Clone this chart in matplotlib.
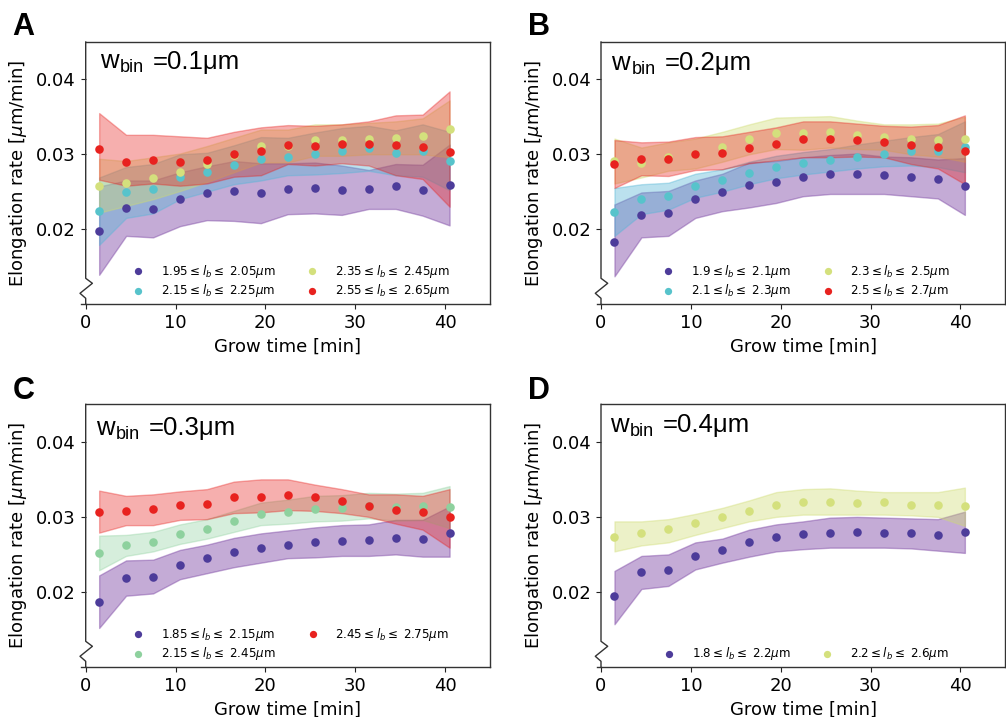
import matplotlib
matplotlib.use("Agg")
import matplotlib.pyplot as plt
import matplotlib.transforms as mtransforms
from matplotlib.lines import Line2D

# ---------------- data ----------------
grow_time = [1.5, 4.5, 7.5, 10.5, 13.5, 16.5, 19.5, 22.5, 25.5, 28.5, 31.5, 34.5, 37.5, 40.5]

# Panel A (w_bin = 0.1 um)
a_labels = [r"1.95$\leq l_b \leq$ 2.05$\mu$m", r"2.15$\leq l_b \leq$ 2.25$\mu$m",
            r"2.35$\leq l_b \leq$ 2.45$\mu$m", r"2.55$\leq l_b \leq$ 2.65$\mu$m"]
a_purple = [0.0198, 0.0228, 0.0227, 0.0240, 0.0248, 0.0251, 0.0248, 0.0254, 0.0255, 0.0252, 0.0253, 0.0257, 0.0252, 0.0259]
a_purple_lo = [0.0139, 0.0191, 0.0189, 0.0204, 0.0212, 0.0211, 0.0208, 0.0220, 0.0221, 0.0219, 0.0227, 0.0227, 0.0218, 0.0205]
a_purple_hi = [0.0257, 0.0265, 0.0265, 0.0276, 0.0284, 0.0291, 0.0288, 0.0288, 0.0289, 0.0285, 0.0279, 0.0287, 0.0286, 0.0313]
a_cyan = [0.0224, 0.0249, 0.0254, 0.0270, 0.0276, 0.0286, 0.0294, 0.0297, 0.0301, 0.0305, 0.0308, 0.0302, 0.0305, 0.0291]
a_cyan_lo = [0.0179, 0.0215, 0.0221, 0.0240, 0.0250, 0.0260, 0.0265, 0.0272, 0.0273, 0.0275, 0.0278, 0.0272, 0.0270, 0.0252]
a_cyan_hi = [0.0269, 0.0283, 0.0287, 0.0300, 0.0302, 0.0312, 0.0323, 0.0322, 0.0329, 0.0335, 0.0338, 0.0332, 0.0340, 0.0330]
a_yellow = [0.0258, 0.0261, 0.0268, 0.0276, 0.0287, 0.0299, 0.0311, 0.0311, 0.0319, 0.0319, 0.0321, 0.0322, 0.0324, 0.0334]
a_yellow_lo = [0.0222, 0.0231, 0.0240, 0.0251, 0.0263, 0.0276, 0.0289, 0.0289, 0.0298, 0.0298, 0.0300, 0.0300, 0.0300, 0.0296]
a_yellow_hi = [0.0294, 0.0291, 0.0296, 0.0301, 0.0311, 0.0322, 0.0333, 0.0333, 0.0340, 0.0340, 0.0342, 0.0344, 0.0348, 0.0372]
a_red = [0.0307, 0.0290, 0.0292, 0.0290, 0.0292, 0.0300, 0.0304, 0.0313, 0.0311, 0.0314, 0.0314, 0.0312, 0.0310, 0.0303]
a_red_lo = [0.0266, 0.0258, 0.0261, 0.0258, 0.0261, 0.0270, 0.0272, 0.0287, 0.0285, 0.0288, 0.0285, 0.0272, 0.0267, 0.0230]
a_red_hi = [0.0355, 0.0326, 0.0326, 0.0324, 0.0322, 0.0330, 0.0336, 0.0339, 0.0338, 0.0340, 0.0344, 0.0352, 0.0353, 0.0384]

# Panel B (w_bin = 0.2 um)
b_labels = [r"1.9$\leq l_b \leq$ 2.1$\mu$m", r"2.1$\leq l_b \leq$ 2.3$\mu$m",
            r"2.3$\leq l_b \leq$ 2.5$\mu$m", r"2.5$\leq l_b \leq$ 2.7$\mu$m"]
b_purple = [0.0183, 0.0219, 0.0221, 0.0240, 0.0249, 0.0259, 0.0263, 0.0270, 0.0273, 0.0274, 0.0272, 0.0270, 0.0267, 0.0257]
b_purple_lo = [0.0137, 0.0189, 0.0191, 0.0215, 0.0224, 0.0229, 0.0235, 0.0244, 0.0247, 0.0247, 0.0247, 0.0244, 0.0241, 0.0219]
b_purple_hi = [0.0233, 0.0249, 0.0251, 0.0265, 0.0274, 0.0289, 0.0291, 0.0296, 0.0299, 0.0301, 0.0297, 0.0296, 0.0293, 0.0295]
b_cyan = [0.0223, 0.0240, 0.0244, 0.0258, 0.0265, 0.0275, 0.0283, 0.0288, 0.0292, 0.0297, 0.0301, 0.0304, 0.0305, 0.0310]
b_cyan_lo = [0.0191, 0.0220, 0.0226, 0.0242, 0.0250, 0.0260, 0.0268, 0.0273, 0.0277, 0.0281, 0.0284, 0.0285, 0.0283, 0.0276]
b_cyan_hi = [0.0255, 0.0260, 0.0262, 0.0274, 0.0280, 0.0290, 0.0298, 0.0303, 0.0307, 0.0313, 0.0318, 0.0323, 0.0327, 0.0344]
b_yellow = [0.0291, 0.0289, 0.0297, 0.0301, 0.0310, 0.0320, 0.0328, 0.0328, 0.0330, 0.0326, 0.0323, 0.0320, 0.0319, 0.0320]
b_yellow_lo = [0.0261, 0.0269, 0.0278, 0.0281, 0.0290, 0.0300, 0.0307, 0.0306, 0.0309, 0.0307, 0.0306, 0.0300, 0.0297, 0.0290]
b_yellow_hi = [0.0321, 0.0309, 0.0316, 0.0321, 0.0330, 0.0340, 0.0349, 0.0350, 0.0351, 0.0345, 0.0340, 0.0340, 0.0341, 0.0350]
b_red = [0.0287, 0.0294, 0.0294, 0.0301, 0.0302, 0.0309, 0.0314, 0.0320, 0.0320, 0.0319, 0.0317, 0.0312, 0.0310, 0.0304]
b_red_lo = [0.0255, 0.0272, 0.0271, 0.0279, 0.0280, 0.0288, 0.0292, 0.0296, 0.0296, 0.0297, 0.0296, 0.0287, 0.0281, 0.0260]
b_red_hi = [0.0319, 0.0316, 0.0317, 0.0323, 0.0324, 0.0330, 0.0336, 0.0344, 0.0344, 0.0341, 0.0338, 0.0337, 0.0339, 0.0352]

# Panel C (w_bin = 0.3 um)
c_labels = [r"1.85$\leq l_b \leq$ 2.15$\mu$m", r"2.15$\leq l_b \leq$ 2.45$\mu$m",
            r"2.45$\leq l_b \leq$ 2.75$\mu$m"]
c_purple = [0.0187, 0.0218, 0.0220, 0.0236, 0.0245, 0.0253, 0.0258, 0.0263, 0.0266, 0.0268, 0.0269, 0.0272, 0.0271, 0.0278]
c_purple_lo = [0.0152, 0.0195, 0.0198, 0.0217, 0.0225, 0.0233, 0.0239, 0.0245, 0.0246, 0.0248, 0.0248, 0.0250, 0.0247, 0.0247]
c_purple_hi = [0.0222, 0.0242, 0.0243, 0.0256, 0.0263, 0.0272, 0.0278, 0.0282, 0.0286, 0.0289, 0.0290, 0.0296, 0.0296, 0.0314]
c_green = [0.0252, 0.0262, 0.0267, 0.0277, 0.0284, 0.0294, 0.0304, 0.0307, 0.0311, 0.0312, 0.0315, 0.0313, 0.0314, 0.0313]
c_green_lo = [0.0229, 0.0248, 0.0254, 0.0264, 0.0271, 0.0280, 0.0289, 0.0291, 0.0294, 0.0295, 0.0298, 0.0295, 0.0296, 0.0285]
c_green_hi = [0.0275, 0.0276, 0.0280, 0.0290, 0.0297, 0.0308, 0.0319, 0.0323, 0.0328, 0.0329, 0.0332, 0.0331, 0.0332, 0.0341]
c_red = [0.0306, 0.0308, 0.0310, 0.0316, 0.0317, 0.0326, 0.0327, 0.0329, 0.0326, 0.0321, 0.0315, 0.0309, 0.0306, 0.0300]
c_red_lo = [0.0279, 0.0289, 0.0289, 0.0296, 0.0297, 0.0305, 0.0306, 0.0309, 0.0308, 0.0305, 0.0300, 0.0291, 0.0283, 0.0259]
c_red_hi = [0.0335, 0.0328, 0.0330, 0.0334, 0.0337, 0.0347, 0.0350, 0.0350, 0.0343, 0.0337, 0.0330, 0.0330, 0.0328, 0.0337]

# Panel D (w_bin = 0.4 um)
d_labels = [r"1.8$\leq l_b \leq$ 2.2$\mu$m", r"2.2$\leq l_b \leq$ 2.6$\mu$m"]
d_purple = [0.0194, 0.0227, 0.0229, 0.0248, 0.0256, 0.0266, 0.0273, 0.0277, 0.0279, 0.0280, 0.0278, 0.0278, 0.0276, 0.0280]
d_purple_lo = [0.0157, 0.0204, 0.0208, 0.0230, 0.0239, 0.0247, 0.0254, 0.0257, 0.0259, 0.0259, 0.0259, 0.0258, 0.0255, 0.0252]
d_purple_hi = [0.0228, 0.0248, 0.0250, 0.0266, 0.0271, 0.0283, 0.0290, 0.0294, 0.0299, 0.0300, 0.0299, 0.0298, 0.0297, 0.0307]
d_yellow = [0.0273, 0.0279, 0.0284, 0.0292, 0.0300, 0.0308, 0.0316, 0.0320, 0.0320, 0.0319, 0.0320, 0.0316, 0.0316, 0.0315]
d_yellow_lo = [0.0254, 0.0262, 0.0266, 0.0276, 0.0285, 0.0294, 0.0300, 0.0303, 0.0303, 0.0303, 0.0303, 0.0302, 0.0300, 0.0288]
d_yellow_hi = [0.0294, 0.0294, 0.0297, 0.0304, 0.0312, 0.0322, 0.0333, 0.0337, 0.0338, 0.0335, 0.0333, 0.0333, 0.0333, 0.0339]

panel_letters = ["A", "B", "C", "D"]
bin_widths = ["=0.1\u03bcm", "=0.2\u03bcm", "=0.3\u03bcm", "=0.4\u03bcm"]
x_ticks = [0, 10, 20, 30, 40]
y_ticks = [0.02, 0.03, 0.04]

# ---------------- style ----------------
DOT = {"purple": "#4d3c9a", "cyan": "#57c3cb", "yellow": "#d4e07d", "red": "#e8221f", "green": "#8ed19e"}
BAND = {"purple": ("#7c46a4", 0.45), "cyan": ("#55b6d6", 0.40), "yellow": ("#cfdc70", 0.38),
        "red": ("#e8221f", 0.36), "green": ("#8ed19e", 0.36)}

panels = [
    dict(box=(85.7, 42, 490, 304), letter_xy=(12, 35), w_xy=(100, 68.5), labels=a_labels,
         series=[("purple", a_purple, a_purple_lo, a_purple_hi), ("cyan", a_cyan, a_cyan_lo, a_cyan_hi),
                 ("yellow", a_yellow, a_yellow_lo, a_yellow_hi), ("red", a_red, a_red_lo, a_red_hi)]),
    dict(box=(601, 42, 1005.3, 304), letter_xy=(528, 35), w_xy=(611.5, 70), labels=b_labels,
         series=[("purple", b_purple, b_purple_lo, b_purple_hi), ("cyan", b_cyan, b_cyan_lo, b_cyan_hi),
                 ("yellow", b_yellow, b_yellow_lo, b_yellow_hi), ("red", b_red, b_red_lo, b_red_hi)]),
    dict(box=(85.7, 404.3, 490, 667), letter_xy=(13, 399), w_xy=(96, 435), labels=c_labels,
         series=[("purple", c_purple, c_purple_lo, c_purple_hi), ("green", c_green, c_green_lo, c_green_hi),
                 ("red", c_red, c_red_lo, c_red_hi)]),
    dict(box=(601, 404.3, 1005.3, 667), letter_xy=(528, 399), w_xy=(610, 432), labels=d_labels,
         series=[("purple", d_purple, d_purple_lo, d_purple_hi), ("yellow", d_yellow, d_yellow_lo, d_yellow_hi)]),
]

W, H = 1006, 717
fig = plt.figure(figsize=(W / 100, H / 100), dpi=100)
renderer = fig.canvas.get_renderer()
SANS = "Liberation Sans"

for i, p in enumerate(panels):
    l, t, r, b = p["box"]
    ax = fig.add_axes([l / W, 1 - b / H, (r - l) / W, (b - t) / H])
    for j, (cname, mean, lo, hi) in enumerate(p["series"]):
        bc, al = BAND[cname]
        ax.fill_between(grow_time, lo, hi, color=bc, alpha=al, lw=1.0, zorder=1 + j * 0.01)
    for j, (cname, mean, lo, hi) in enumerate(p["series"]):
        ax.scatter(grow_time, mean, s=38, color=DOT[cname], linewidths=0, zorder=3 + j * 0.01,
                   label=p["labels"][j])
    ax.set_xlim(0, 45)
    ax.set_ylim(0.010, 0.045)
    ax.set_xticks(x_ticks)
    ax.set_yticks(y_ticks)
    ax.tick_params(labelsize=13, colors="#222222", labelcolor="black")
    ax.set_xlabel("Grow time [min]", fontsize=13)
    ax.set_ylabel(r"Elongation rate [$\mu$m/min]", fontsize=13, labelpad=5)
    for s in ax.spines.values():
        s.set_color("#333333")
        s.set_linewidth(1.0)
    ax.spines["left"].set_visible(False)
    # left spine with axis-break zigzag
    aw, ah = r - l, b - t
    zx = [0, 0, 6.7, -5.7, 0, 0]
    zy = [ah, 25.7, 20.7, 10.7, 5.7, 0]
    ax.add_line(Line2D([v / aw for v in zx], [v / ah for v in zy], transform=ax.transAxes,
                       color="#333333", lw=1.0, clip_on=False, zorder=5))
    ax.add_line(Line2D([-4.5 / aw, 0], [0, 0], transform=ax.transAxes,
                       color="#333333", lw=1.0, clip_on=False, zorder=5))

    ax.legend(loc="lower center", ncol=2, frameon=False, fontsize=8.6, handletextpad=0.9,
              columnspacing=2.1, markerscale=0.85, borderaxespad=0.0, labelspacing=0.22)

    # bin width annotation  w_bin =0.x um
    wx, wy = p["w_xy"]
    fx, fy = (wx - l) / aw, (b - wy) / ah
    t1 = ax.text(fx, fy, "w", transform=ax.transAxes, fontsize=18.5, family=SANS, va="baseline")
    e1 = t1.get_window_extent(renderer)
    tr2 = mtransforms.offset_copy(ax.transAxes, fig=fig, x=e1.width + 1.5, y=-4.0, units="dots")
    t2 = ax.text(fx, fy, "bin", transform=tr2, fontsize=13, family=SANS, va="baseline")
    e2 = t2.get_window_extent(renderer)
    tr3 = mtransforms.offset_copy(ax.transAxes, fig=fig, x=e1.width + e2.width + 10, y=0, units="dots")
    ax.text(fx, fy, bin_widths[i], transform=tr3, fontsize=18.5, family=SANS, va="baseline")

    lx, ly = p["letter_xy"]
    fig.text(lx / W, 1 - ly / H, panel_letters[i], fontsize=22, fontweight="bold", family=SANS,
             va="baseline", ha="left")

fig.savefig("out.png", dpi=100)
